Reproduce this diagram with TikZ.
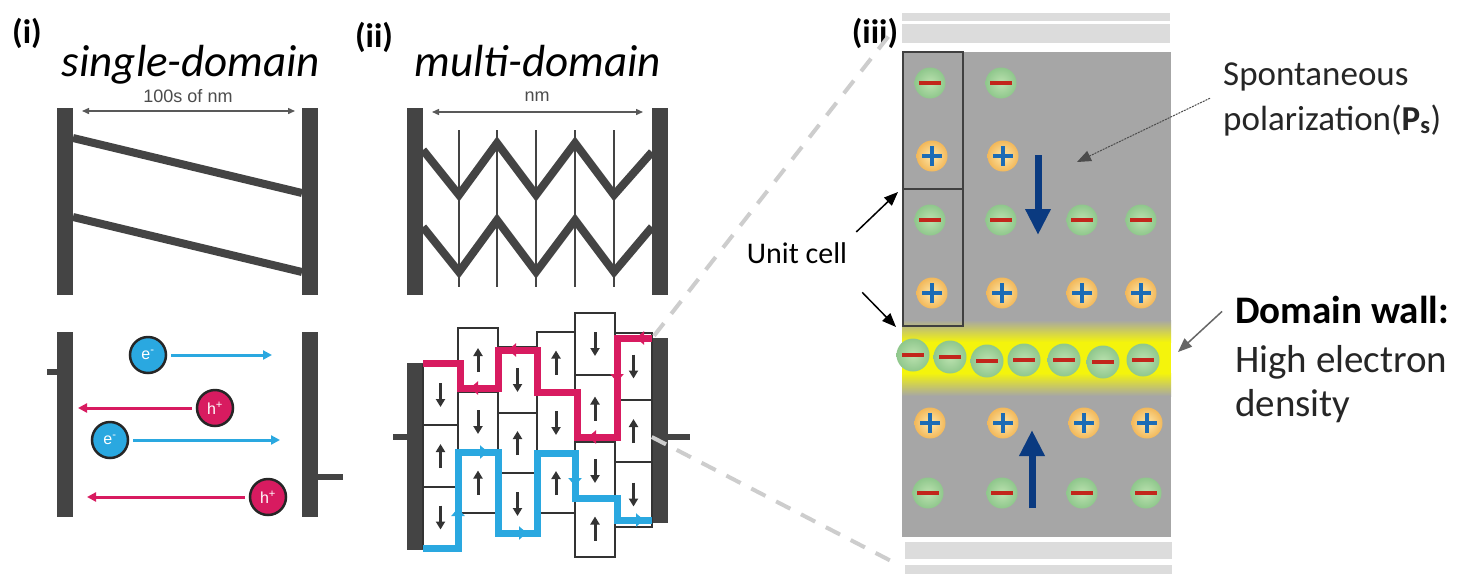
\documentclass[tikz,border=0pt]{standalone}
\usepackage{fontspec}
\setmainfont{Carlito}
\newfontfamily\helvfont{Liberation Sans}
\usetikzlibrary{arrows.meta,calc}

\definecolor{barc}{HTML}{444444}
\definecolor{ecyan}{HTML}{2AA8E0}
\definecolor{hmag}{HTML}{D81B60}
\definecolor{navyarr}{HTML}{0A3A80}
\definecolor{cellgray}{HTML}{A6A6A6}
\definecolor{stripgray}{HTML}{DCDCDC}
\definecolor{wallyel}{HTML}{F4F40C}
\definecolor{plusblue}{HTML}{1C6CB5}
\definecolor{minusred}{HTML}{C2261B}
\definecolor{plusin}{HTML}{FFE8AA}
\definecolor{plusout}{HTML}{F2B85A}
\definecolor{minin}{HTML}{BCE2B0}
\definecolor{minout}{HTML}{8FC78C}
\definecolor{linkgray}{HTML}{CDCDCD}

\begin{document}
\begin{tikzpicture}[x=1pt,y=-1pt,
  bar/.style={fill=barc,inner sep=0pt,minimum width=16pt},
  slab/.style={draw=barc,line width=8pt},
  vline/.style={draw=barc,line width=2.2pt},
  scalearr/.style={draw=black!65,line width=1.4pt,{Triangle[length=7pt,width=6pt]}-{Triangle[length=7pt,width=6pt]}},
  carrier/.style={circle,minimum size=36pt,inner sep=0pt,draw=black!85,line width=2.5pt,text=white,font=\helvfont\fontsize{16}{16}\selectfont},
  earr/.style={draw=ecyan,line width=3pt,-{Triangle[length=9pt,width=9pt]},shorten <=4pt},
  harr/.style={draw=hmag,line width=3pt,-{Triangle[length=9pt,width=9pt]},shorten <=4pt},
  cell/.style={draw=black!80,line width=1.6pt,fill=white},
  spin/.style={draw=black!80,line width=3pt,-{Triangle[length=8pt,width=9pt]}},
  hpath/.style={draw=hmag,line width=7pt},
  epath/.style={draw=ecyan,line width=7pt},
  htip/.style={draw=hmag,line width=2pt,-{Triangle[length=8pt,width=13pt]}},
  etip/.style={draw=ecyan,line width=2pt,-{Triangle[length=8pt,width=13pt]}},
  link/.style={draw=linkgray,line width=4pt,dash pattern=on 16pt off 12pt},
  ionp/.style={circle,minimum size=31pt,inner sep=0pt,inner color=plusin,outer color=plusout,
    path picture={\draw[plusblue,line width=3.5pt] (path picture bounding box.center) +(-10,0) -- +(10,0) +(0,-10) -- +(0,10);}},
  ionm/.style={circle,minimum size=31pt,inner sep=0pt,inner color=minin,outer color=minout,
    path picture={\draw[minusred,line width=4pt] (path picture bounding box.center) +(-11,0) -- +(11,0);}},
  polarr/.style={draw=navyarr,line width=7pt,-{Triangle[length=26pt,width=24pt]}},
  callout/.style={line width=1.5pt,-{Triangle[length=14pt,width=11pt]}},
  title/.style={font=\fontsize{45}{50}\selectfont\itshape,anchor=base},
  tag/.style={font=\fontsize{34}{40}\selectfont\bfseries,anchor=base},
]
\useasboundingbox (0,0) rectangle (1473,574);
\fill[white] (0,0) rectangle (1473,574);

% ---------- titles
\node[tag] (t1) at (27,43) {(i)};
\node[title] (n1) at (191,76) {single-domain};
\node[tag] (t2) at (374,47) {(ii)};
\node[title] (n2) at (538,76) {multi-domain};
\node[tag] (t3) at (875,43) {(iii)};

% ---------- (i) single domain: walls
\node[bar,minimum height=187pt] (aL) at (65,201.5) {};
\node[bar,minimum height=187pt] (aR) at (310,201.5) {};
\draw[slab] (73,138) -- (302,193);
\draw[slab] (73,217) -- (302,272);
\node[font=\helvfont\fontsize{18}{18}\selectfont,text=black!70] (aS) at (188,96) {100s of nm};
\draw[scalearr] (82,111) -- (295,111);

% ---------- (i) single domain: carriers
\node[bar,minimum height=185pt] (bL) at (65,424.5) {};
\node[bar,minimum height=185pt] (bR) at (310,424.5) {};
\draw[barc,line width=6pt] (bL.west |- 0,372) -- (47,372);
\draw[barc,line width=6pt] (bR.east |- 0,477) -- (343,477);
\node[carrier,fill=ecyan] (e1) at (148,355) {e\textsuperscript{-}};
\node[carrier,fill=hmag] (h1) at (215,408) {h\textsuperscript{+}};
\node[carrier,fill=ecyan] (e2) at (110,440) {e\textsuperscript{-}};
\node[carrier,fill=hmag] (h2) at (268,497) {h\textsuperscript{+}};
\coordinate (e1end) at (272,355);
\coordinate (h1end) at (78,408);
\coordinate (e2end) at (280,440);
\coordinate (h2end) at (87,497);
\draw[earr] (e1.east) -- (e1end);
\draw[harr] (h1.west) -- (h1end);
\draw[earr] (e2.east) -- (e2end);
\draw[harr] (h2.west) -- (h2end);

% ---------- (ii) multi domain: walls
\node[bar,minimum height=187pt] (cL) at (415,201.5) {};
\node[bar,minimum height=187pt] (cR) at (660,201.5) {};
\foreach \xx in {459,497,536,575,614} \draw[vline] (\xx,130) -- (\xx,287);
\draw[slab,line join=miter] (423,150) -- (459,195) -- (497,143) -- (536,195) -- (575,143) -- (614,195) -- (652,152);
\draw[slab,line join=miter] (423,227) -- (459,272) -- (497,220) -- (536,272) -- (575,220) -- (614,272) -- (652,227);
\node[font=\helvfont\fontsize{18}{18}\selectfont,text=black!70] (cS) at (537,97) {nm};
\draw[scalearr] (432,112) -- (643,112);

% ---------- (ii) multi domain: domain mosaic
\node[bar,minimum height=187pt] (dL) at (415,456.5) {};
\node[bar,minimum height=185pt] (dR) at (660,430.5) {};
\draw[barc,line width=6pt] (dL.west |- 0,437) -- (393,437);
\draw[barc,line width=6pt] (dR.east |- 0,437) -- (690,437);
\foreach \xa/\xb/\ya/\yb/\dd in {
  423/458/365/425/1, 423/458/425/487/-1, 423/458/487/548/1,
  458/498/328/392/-1, 458/498/392/452/1, 458/498/452/513/-1,
  498/537/347/413/1, 498/537/413/473/-1, 498/537/473/535/1,
  537/575/332/393/-1, 537/575/393/453/1, 537/575/453/513/-1,
  575/615/313/375/1, 575/615/375/442/-1, 575/615/442/500/1, 575/615/500/557/-1,
  615/652/333/400/1, 615/652/400/462/-1, 615/652/462/527/1} {
  \draw[cell] (\xa,\ya) rectangle (\xb,\yb);
  \draw[spin] ({(\xa+\xb)/2},{(\ya+\yb)/2-12*\dd}) -- ++(0,{24*\dd});
}
\draw[hpath] (652,338) -- (617,338) -- (617,437) -- (577,437) -- (577,392) -- (537,392)
  -- (537,350) -- (498,350) -- (498,388) -- (460,388) -- (460,363) -- (423,363);
\draw[epath] (423,548) -- (458,548) -- (458,452) -- (498,452) -- (498,533) -- (537,533)
  -- (537,453) -- (575,453) -- (575,498) -- (617,498) -- (617,520) -- (652,520);
\draw[htip] (648,338) -- (636,338);
\draw[htip] (617,372) -- (617,382);
\draw[htip] (600,437) -- (588,437);
\draw[htip] (520,350) -- (508,350);
\draw[htip] (482,388) -- (470,388);
\draw[etip] (458,520) -- (458,508);
\draw[etip] (476,452) -- (488,452);
\draw[etip] (515,533) -- (527,533);
\draw[etip] (575,476) -- (575,486);
\draw[etip] (632,520) -- (644,520);

% ---------- zoom guides
\coordinate (zTop) at (895,28);
\coordinate (zBot) at (895,563);
\draw[link] (dR.north) ++(-6,-2) -- (zTop);
\draw[link] (dR.west |- 0,437) -- (zBot);

% ---------- (iii) atomic picture
\fill[stripgray] (902,13) rectangle (1170,21);
\fill[stripgray] (902,24) rectangle (1170,43);
\node[fill=cellgray,minimum width=269pt,minimum height=485pt,inner sep=0pt] (film) at (1036.5,294.5) {};
\fill[stripgray] (905,542) rectangle (1172,559);
\fill[stripgray] (905,565) rectangle (1172,574);
% charged wall glow
\shade[top color=cellgray,bottom color=wallyel] (902,320) rectangle (1171,342);
\fill[wallyel] (902,342) rectangle (1171,373);
\shade[top color=wallyel,bottom color=cellgray] (902,373) rectangle (1171,396);
% unit cells
\draw[black!75,line width=1.5pt] (903,52) rectangle (963,189);
\draw[black!75,line width=1.5pt] (903,189) rectangle (963,326);
% ions
\foreach \xx/\yy in {930/83, 1001/83, 930/220, 1001/220, 1082/220, 1141/220,
  928/493, 1002/493, 1082/493, 1146/493}
  \node[ionm] at (\xx,\yy) {};
\foreach \xx/\yy in {932/156, 1003/156, 932/293, 1002/293, 1082/293, 1141/293,
  930/423, 1003/423, 1084/423, 1147/423}
  \node[ionp] at (\xx,\yy) {};
\foreach \xx/\yy in {913/355, 950/357, 987/361, 1024/360, 1064/360, 1103/362, 1143/360}
  \node[ionm,minimum size=33pt] at (\xx,\yy) {};
% polarization arrows
\draw[polarr] (1038,155) -- (1038,235);
\draw[polarr] (1032,508) -- (1032,430);

% ---------- labels
\node[font=\fontsize{30}{36}\selectfont,anchor=base,inner sep=0pt] (uc) at (797,263) {Unit cell};
\coordinate (ucTop) at (898,192);
\coordinate (ucBot) at (896,327);
\draw[callout,black] ($(uc.north east)+(9,-10)$) -- (ucTop);
\draw[callout,black] ($(uc.south east)+(15,29)$) -- (ucBot);

\node[font=\fontsize{35}{42}\selectfont,anchor=base west,inner sep=0pt,text=black!85] (sp1) at (1223,85) {Spontaneous};
\node[font=\fontsize{35}{42}\selectfont,anchor=base west,inner sep=0pt,text=black!85] (sp2) at (1223,130) {polarization(\textbf{P}\textsubscript{\textbf{s}})};
\coordinate (psTip) at (1077,162);
\draw[callout,black!70,line width=1pt,dash pattern=on 2pt off 1pt] ($(sp2.north west)+(-13,-6)$) -- (psTip);

\node[font=\fontsize{39}{47}\selectfont\bfseries,anchor=base west,inner sep=0pt] (dw1) at (1235,323) {Domain wall:};
\node[font=\fontsize{39}{47}\selectfont,anchor=base west,inner sep=0pt,text=black!85] (dw2) at (1235,372) {High electron};
\node[font=\fontsize{39}{47}\selectfont,anchor=base west,inner sep=0pt,text=black!85] (dw3) at (1235,416) {density};
\coordinate (dwTip) at (1178,352);
\draw[callout,black!60] ($(dw1.west)+(-13,2)$) -- (dwTip);
\end{tikzpicture}
\end{document}
